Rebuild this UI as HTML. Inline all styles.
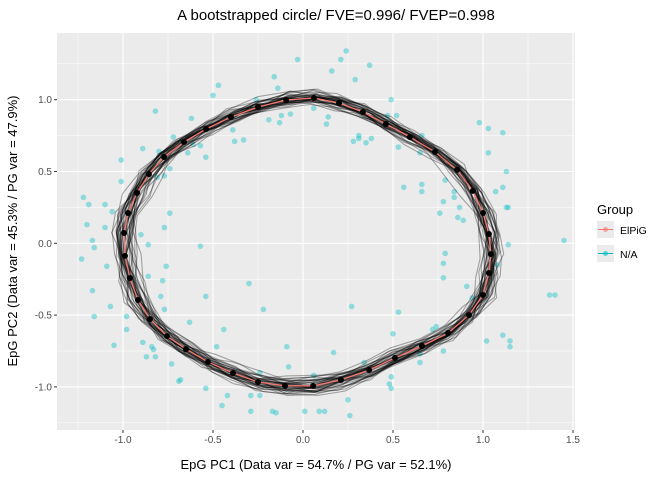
<!DOCTYPE html>
<html><head><meta charset="utf-8">
<style>
body{margin:0;background:#fff;}
svg text{font-family:"Liberation Sans",sans-serif;}
</style></head>
<body>
<svg id="chart" width="672" height="480" viewBox="0 0 672 480">
<text x="336" y="20" text-anchor="middle" font-size="15" fill="#000">A bootstrapped circle/ FVE=0.996/ FVEP=0.998</text>
<g id="panel"></g>
<g id="axes"></g>
<text x="316" y="469" text-anchor="middle" font-size="13">EpG PC1 (Data var = 54.7% / PG var = 52.1%)</text>
<text transform="translate(17,231) rotate(-90)" text-anchor="middle" font-size="13">EpG PC2 (Data var = 45.3% / PG var = 47.9%)</text>
<g>
<text x="597" y="214" font-size="13">Group</text>
<g>
<rect x="597" y="221" width="17" height="17" fill="#EBEBEB"/>
<line x1="598" y1="229.5" x2="613" y2="229.5" stroke="#F8766D" stroke-width="1"/>
<circle cx="605.5" cy="229.5" r="2.5" fill="#F8766D" fill-opacity="0.6"/>
<text x="620" y="234" font-size="10.5">ElPiG</text></g>
<g>
<rect x="597" y="245" width="17" height="17" fill="#EBEBEB"/>
<line x1="598" y1="253.5" x2="613" y2="253.5" stroke="#00BFC4" stroke-width="1"/>
<circle cx="605.5" cy="253.5" r="2.5" fill="#00BFC4" fill-opacity="0.6"/>
<text x="620" y="258" font-size="10.5">N/A</text></g>
</g>
</svg>
<script>
// ---- data ----
const xTicks = [-1.0, -0.5, 0.0, 0.5, 1.0, 1.5];
const yTicks = [-1.0, -0.5, 0.0, 0.5, 1.0];
const xTickLabels = ["-1.0","-0.5","0.0","0.5","1.0","1.5"];
const yTickLabels = ["-1.0","-0.5","0.0","0.5","1.0"];
const nodeX = [-0.094,0.061,0.200,0.333,0.461,0.594,0.733,0.856,0.944,1.000,1.033,1.044,1.033,1.000,0.922,0.806,0.661,0.511,0.367,0.211,0.056,-0.100,-0.250,-0.389,-0.528,-0.650,-0.756,-0.850,-0.917,-0.961,-0.989,-0.994,-0.972,-0.922,-0.856,-0.772,-0.661,-0.539,-0.400,-0.250];
const nodeY = [0.998,1.012,0.977,0.914,0.831,0.740,0.636,0.511,0.365,0.211,0.065,-0.075,-0.207,-0.360,-0.499,-0.625,-0.715,-0.798,-0.882,-0.951,-0.993,-0.993,-0.966,-0.903,-0.827,-0.737,-0.646,-0.527,-0.395,-0.242,-0.088,0.072,0.211,0.350,0.482,0.601,0.705,0.796,0.879,0.949];
const ptX = [-0.82,-0.62,-0.50,-0.47,-0.39,-0.26,-0.16,-0.14,-0.19,-0.12,-0.13,-0.07,-0.03,0.06,0.16,0.21,0.24,0.37,0.29,0.14,0.13,0.49,0.47,0.52,0.98,1.03,1.11,-1.05,-0.98,-0.89,-0.84,-0.83,-0.87,-0.82,-0.73,-0.69,-0.68,-0.54,-0.48,-0.45,-0.42,-0.29,-0.29,-0.24,-0.24,-0.17,-0.15,-0.09,-0.08,0.01,0.06,0.09,0.12,0.17,0.25,0.26,0.34,0.49,0.48,0.49,0.50,0.65,0.78,1.02,1.11,1.15,1.15,-0.44,-0.89,-1.01,-1.01,-1.10,-1.06,-1.10,-1.09,-1.07,-0.98,-0.74,-0.77,-0.90,-0.86,-0.76,-0.78,-0.79,-0.77,-0.86,-0.63,-0.57,-0.54,-0.64,-0.74,-0.77,-0.81,-0.80,-0.72,-0.61,-0.38,-0.33,-0.57,-0.30,-0.22,-0.54,0.27,0.28,0.31,0.31,0.35,0.38,0.53,0.56,0.66,0.66,0.66,0.65,0.78,0.76,0.84,0.87,0.86,0.89,0.84,0.79,0.79,0.78,0.78,0.91,0.94,0.53,0.65,0.72,0.74,1.03,1.13,1.11,1.07,1.13,1.14,1.14,1.08,-1.22,-1.19,-1.20,-1.17,-1.16,-1.23,-1.17,-1.16,1.45,1.37,1.40];
const ptY = [0.92,0.87,1.03,1.10,0.79,1.00,1.16,1.08,0.86,0.89,0.84,0.90,1.28,0.94,1.20,1.28,1.34,1.24,1.14,0.88,0.83,1.00,0.89,0.89,0.84,0.80,0.77,-0.71,-0.60,-0.69,-0.72,-0.74,-0.79,-0.79,-0.84,-0.96,-0.95,-1.01,-0.72,-1.13,-1.06,-1.06,-1.17,-0.90,-1.06,-1.17,-1.18,-0.72,-0.86,-1.17,-0.92,-1.17,-1.17,-0.76,-1.09,-1.20,-0.83,-0.93,-0.98,-1.01,-0.63,-0.83,-0.75,-0.68,-0.64,-0.68,-0.72,-0.60,0.66,0.58,0.43,0.27,0.22,0.11,-0.16,-0.44,-0.51,0.21,0.11,0.06,-0.01,-0.16,-0.26,-0.37,-0.46,-0.23,-0.55,0.68,0.60,0.63,0.52,0.47,0.46,0.64,0.74,0.69,0.71,0.72,-0.02,-0.28,-0.46,-0.37,-0.44,0.71,0.75,0.73,0.70,0.73,0.67,0.39,0.41,0.36,0.75,0.63,0.29,0.21,0.32,0.25,0.18,0.16,0.36,0.44,-0.07,-0.14,-0.24,-0.30,-0.38,-0.48,-0.77,-0.60,-0.58,0.63,0.50,0.39,0.36,0.25,0.25,-0.01,-0.15,0.32,0.27,0.13,0.02,-0.03,-0.11,-0.33,-0.51,0.02,-0.36,-0.36];
// bootstrap curve variations (scale x, scale y, shift x, shift y, wobble amplitude)
const bsScaleX = [1.00,0.97,1.03,0.95,1.05,0.99,1.02,0.96,1.04,0.98,1.01,0.94,1.06,0.97,1.03,1.00,0.95,1.04,0.98,1.02,0.96,1.05,0.99,1.01,0.97,1.03,0.93,1.07,1.00,0.98,1.02,0.96,1.04,0.99,1.01,0.95,1.03,0.97,1.05,1.00];
const bsScaleY = [1.02,0.98,1.00,1.04,0.96,1.03,0.97,1.01,0.99,1.05,0.95,1.02,0.98,1.06,0.97,1.00,1.03,0.96,1.04,0.98,1.02,0.99,1.05,0.95,1.01,0.97,1.03,1.00,0.94,1.04,0.98,1.02,0.96,1.01,0.99,1.03,0.97,1.05,0.98,1.00];
const bsShiftX = [0.02,-0.03,0.01,0.04,-0.02,0.00,-0.04,0.03,-0.01,0.02,0.05,-0.03,0.00,0.01,-0.05,0.03,0.02,-0.02,0.04,-0.01,0.00,0.03,-0.03,0.01,0.02,-0.04,0.03,0.00,-0.02,0.01,0.04,-0.01,0.02,-0.03,0.00,0.05,-0.02,0.01,-0.04,0.02];
const bsShiftY = [-0.02,0.03,0.00,-0.04,0.02,0.01,-0.03,0.04,-0.01,0.00,0.02,-0.05,0.03,-0.02,0.01,0.04,-0.03,0.00,0.02,-0.01,0.05,-0.02,0.01,0.03,-0.04,0.00,0.02,-0.03,0.04,0.01,-0.02,0.03,0.00,-0.01,0.02,-0.04,0.03,0.01,-0.02,0.00];
const wobble = [0.03,-0.05,0.02,0.06,-0.02,0.04,-0.06,0.01,0.05,-0.03,0.00,0.07,-0.04,0.02,-0.01,0.05,-0.06,0.03,0.01,-0.05,0.04,-0.02,0.06,-0.03,0.02,0.00,-0.07,0.04,-0.01,0.03,0.05,-0.04,0.02,-0.06,0.01,0.03,-0.02,0.07,-0.05,0.00,0.04];

// ---- scales ----
const L=57,R=575,T=33,B=430;
const X = v => 303 + 180*v;
const Y = v => 243.3 - 143.6*v;
const NS="http://www.w3.org/2000/svg";
function mk(tag, attrs, parent){const e=document.createElementNS(NS,tag);for(const k in attrs)e.setAttribute(k,attrs[k]);parent.appendChild(e);return e;}
const panel=document.getElementById('panel'), axes=document.getElementById('axes');
const bg=mk('rect',{x:L,y:T,width:R-L,height:B-T,fill:'#EBEBEB'},panel);


for(let i=0;i<xTicks.length+1;i++){const v=xTicks[0]-0.25+0.5*i;const ln=mk('line',{x1:X(v),x2:X(v),y1:T,y2:B,stroke:'#fff','stroke-width':0.5},panel);

}
for(let i=0;i<yTicks.length+1;i++){const v=yTicks[0]-0.25+0.5*i;const ln=mk('line',{x1:L,x2:R,y1:Y(v),y2:Y(v),stroke:'#fff','stroke-width':0.5},panel);

}
xTicks.forEach((v,i)=>{const ln=mk('line',{x1:X(v),x2:X(v),y1:T,y2:B,stroke:'#fff','stroke-width':1.1},panel);


const tk=mk('line',{x1:X(v),x2:X(v),y1:B,y2:B+3,stroke:'#333','stroke-width':1},axes);


const t=mk('text',{x:X(v),y:B+13,'text-anchor':'middle','font-size':10,fill:'#4d4d4d'},axes);t.textContent=xTickLabels[i];

});
yTicks.forEach((v,i)=>{const ln=mk('line',{x1:L,x2:R,y1:Y(v),y2:Y(v),stroke:'#fff','stroke-width':1.1},panel);


const tk=mk('line',{x1:L-3,x2:L,y1:Y(v),y2:Y(v),stroke:'#333','stroke-width':1},axes);


const t=mk('text',{x:L-5,y:Y(v)+3.5,'text-anchor':'end','font-size':10,fill:'#4d4d4d'},axes);t.textContent=yTickLabels[i];

});
ptX.forEach((v,i)=>{const c=mk('circle',{cx:X(v),cy:Y(ptY[i]),r:2.8,fill:'#00BFC4','fill-opacity':0.4},panel);

});
const n=nodeX.length;
bsScaleX.forEach((sx,k)=>{let d='';
const sxx=1+(sx-1)*0.6, syy=1+(bsScaleY[k]-1)*0.6;
for(let j=0;j<=n;j++){const i=j%n;const w=wobble[(i*3+k*7)%wobble.length];
const r=1+w*0.45;const x=(nodeX[i]*sxx*r+bsShiftX[k]*0.6), y=(nodeY[i]*syy*r+bsShiftY[k]*0.6);
d+=(j?'L':'M')+X(x).toFixed(1)+','+Y(y).toFixed(1);}
const p=mk('path',{d:d,fill:'none',stroke:'#000','stroke-opacity':0.32,'stroke-width':1.1},panel);

});
let d='';for(let j=0;j<=n;j++){const i=j%n;d+=(j?'L':'M')+X(nodeX[i]).toFixed(1)+','+Y(nodeY[i]).toFixed(1);}
const pc=mk('path',{d:d,fill:'none',stroke:'#F8766D','stroke-width':1.3},panel);


nodeX.forEach((v,i)=>{const c=mk('circle',{cx:X(v),cy:Y(nodeY[i]),r:3,fill:'#000'},panel);

});
</script>
</body></html>
